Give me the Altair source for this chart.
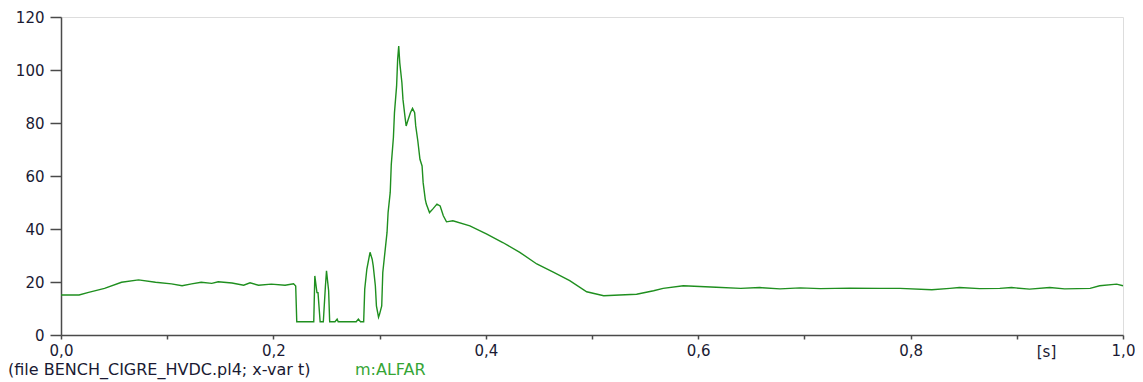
import altair as alt
import pandas as pd

# time [s]
t = [0.000, 0.017, 0.026, 0.041, 0.057, 0.073, 0.089, 0.104, 0.114, 0.123,
     0.132, 0.142, 0.148, 0.161, 0.172, 0.178, 0.186, 0.198, 0.211, 0.219,
     0.221, 0.222, 0.238, 0.239, 0.241, 0.242, 0.244, 0.247, 0.249, 0.250,
     0.252, 0.253, 0.258, 0.260, 0.261, 0.278, 0.280, 0.282, 0.285, 0.286,
     0.288, 0.291, 0.293, 0.294, 0.296, 0.297, 0.299, 0.300, 0.302, 0.303,
     0.305, 0.307, 0.308, 0.310, 0.311, 0.313, 0.314, 0.316, 0.317, 0.318,
     0.319, 0.321, 0.322, 0.324, 0.325, 0.327, 0.329, 0.331, 0.333, 0.334,
     0.336, 0.338, 0.340, 0.341, 0.343, 0.344, 0.347, 0.350, 0.354, 0.357,
     0.360, 0.363, 0.369, 0.385, 0.401, 0.416, 0.432, 0.448, 0.464, 0.479,
     0.495, 0.511, 0.526, 0.542, 0.558, 0.567, 0.586, 0.617, 0.640, 0.658,
     0.677, 0.696, 0.715, 0.743, 0.771, 0.790, 0.820, 0.837, 0.846, 0.865,
     0.884, 0.895, 0.912, 0.931, 0.945, 0.969, 0.978, 0.994, 1.000]

# ALFAR value
alfar = [15.1, 15.1, 16.1, 17.6, 19.9, 20.8, 19.9, 19.3, 18.6, 19.3,
         19.9, 19.5, 20.1, 19.6, 18.8, 19.7, 18.8, 19.2, 18.8, 19.3,
         18.5, 5.0, 5.0, 22.3, 16.0, 16.0, 5.0, 5.0, 18.6, 24.2,
         16.7, 5.0, 5.0, 6.0, 5.0, 5.0, 6.0, 5.0, 5.0, 17.3,
         24.9, 31.2, 28.6, 26.1, 18.6, 11.0, 6.7, 7.9, 11.0, 23.6,
         31.2, 38.7, 46.2, 53.8, 64.4, 74.5, 83.9, 93.9, 104.0, 109.0,
         102.7, 95.2, 88.9, 82.0, 78.9, 81.4, 83.9, 85.5, 83.9, 78.9,
         73.2, 66.3, 63.8, 57.5, 51.2, 49.4, 46.2, 47.5, 49.4, 48.7,
         45.0, 42.7, 43.1, 41.2, 38.1, 34.9, 31.2, 26.8, 23.6, 20.5,
         16.3, 14.8, 15.1, 15.4, 16.7, 17.6, 18.6, 18.0, 17.6, 17.9,
         17.4, 17.8, 17.5, 17.7, 17.6, 17.6, 17.1, 17.6, 17.9, 17.5,
         17.6, 17.9, 17.3, 17.9, 17.4, 17.6, 18.6, 19.2, 18.6]

x_ticks = [0.0, 0.1, 0.2, 0.3, 0.4, 0.5, 0.6, 0.7, 0.8, 0.9, 1.0]
y_ticks = [0, 20, 40, 60, 80, 100, 120]
unit_label = ["[s]"]
unit_pos = [0.928]
footer_left = ["(file BENCH_CIGRE_HVDC.pl4; x-var t)"]
footer_right = ["m:ALFAR"]

W, H = 1062, 318
FONT = "DejaVu Sans"
TXT = "#1a1a33"
AX = "#4a4a4a"

df = pd.DataFrame({"t": t, "v": alfar})

xscale = alt.Scale(domain=[0, 1], nice=False, zero=False)
yscale = alt.Scale(domain=[0, 120], nice=False)

line = alt.Chart(df).mark_line(color="#1f8f1f", strokeWidth=1.4).encode(
    x=alt.X("t:Q", scale=xscale, axis=alt.Axis(
        values=x_ticks, title=None, grid=False,
        labelExpr="round(datum.value*10) % 2 == 0 ? replace(format(datum.value, '.1f'), '.', ',') : ''",
        labelFlush=False, labelOverlap=False, labelFont=FONT, labelFontSize=15,
        labelColor=TXT, tickSize=4, tickColor=AX, tickWidth=1.5,
        domainColor=AX, domainWidth=1.5, labelPadding=4)),
    y=alt.Y("v:Q", scale=yscale, axis=alt.Axis(
        values=y_ticks, title=None, grid=False, labelFlush=False, labelOverlap=False,
        labelFont=FONT, labelFontSize=15, labelColor=TXT, tickSize=11,
        tickColor=AX, tickWidth=1.5, domainColor=AX, domainWidth=1.5, labelPadding=6)),
)

unit = alt.Chart(pd.DataFrame({"t": unit_pos, "lab": unit_label})).mark_text(
    font=FONT, fontSize=15, color=TXT, baseline="middle", align="center"
).encode(x=alt.X("t:Q", scale=xscale), y=alt.value(H + 17), text="lab:N")

foot_l = alt.Chart(pd.DataFrame({"lab": footer_left})).mark_text(
    font=FONT, fontSize=16, color=TXT, baseline="middle", align="left"
).encode(x=alt.value(-53), y=alt.value(H + 35), text="lab:N")

foot_r = alt.Chart(pd.DataFrame({"lab": footer_right})).mark_text(
    font=FONT, fontSize=16, color="#35a535", baseline="middle", align="left"
).encode(x=alt.value(294), y=alt.value(H + 35), text="lab:N")

chart = alt.layer(line, unit, foot_l, foot_r).properties(
    width=W, height=H,
    autosize=alt.AutoSizeParams(type="none"),
    padding={"left": 53, "top": 9, "right": 12, "bottom": 45},
).configure_view(stroke=AX, strokeWidth=1.5).configure(background="white")

chart.save("out.html", embed_options={"renderer": "svg", "actions": False})
